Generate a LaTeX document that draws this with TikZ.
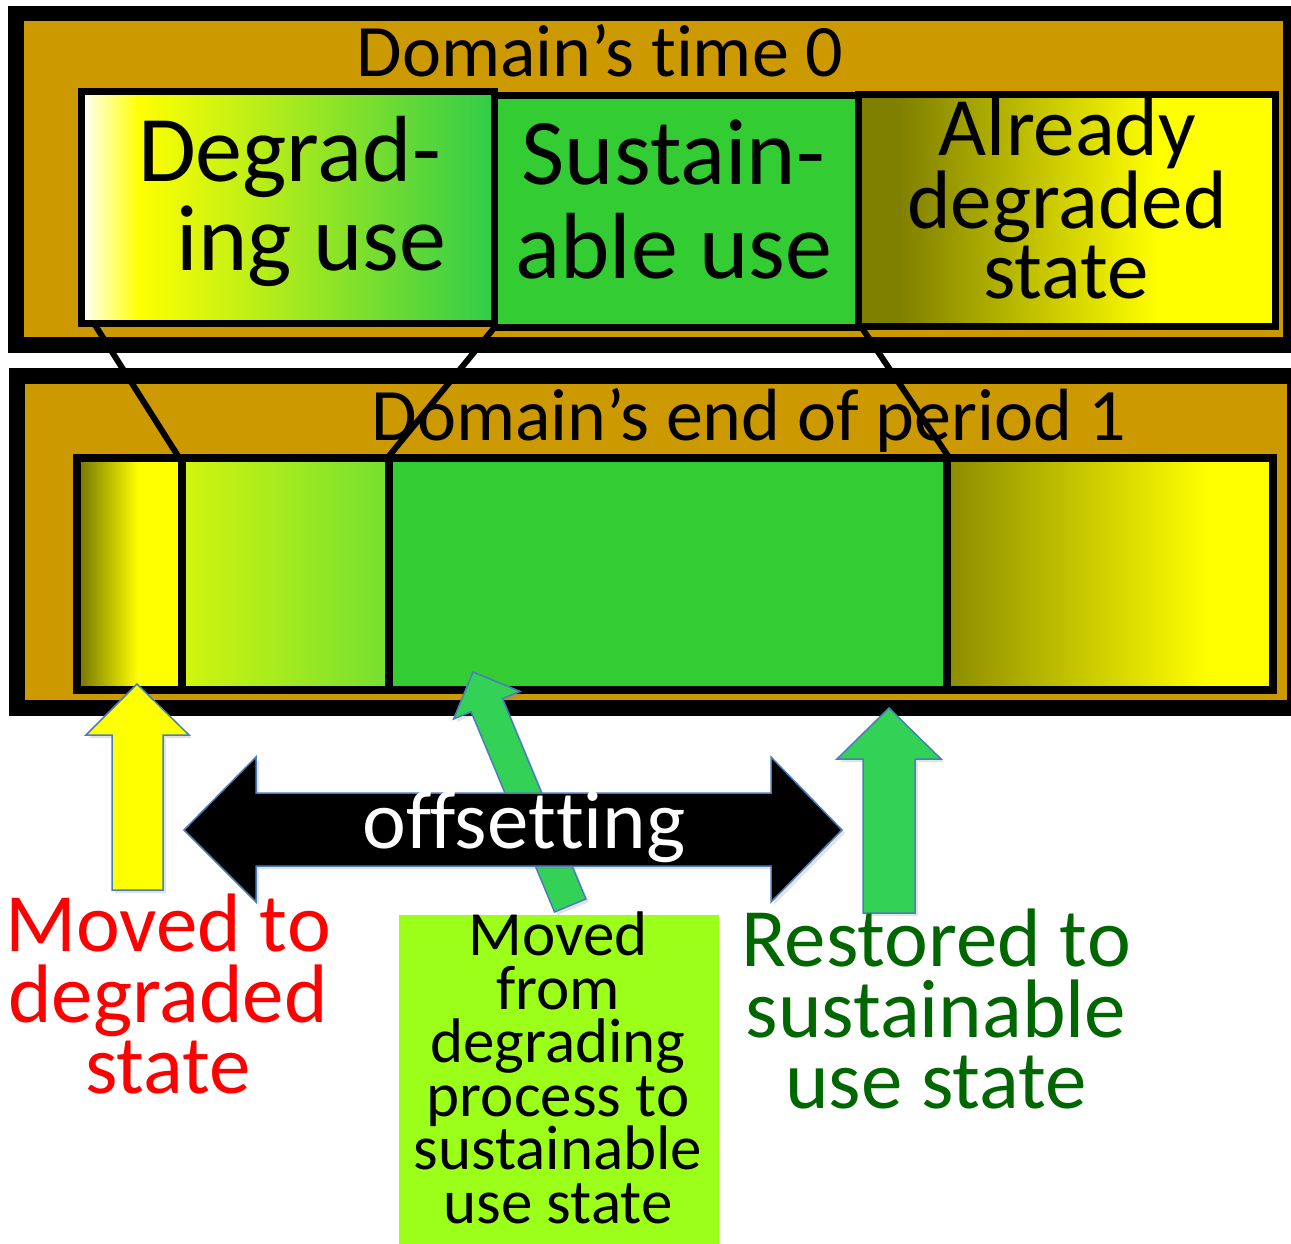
\documentclass[tikz,border=0pt]{standalone}
\usepackage{fontspec}
\setmainfont{Carlito}[Ligatures=NoCommon]
\usetikzlibrary{shadows}
\definecolor{brownbg}{HTML}{CC9900}
\definecolor{sgreen}{HTML}{33CC33}
\definecolor{gradgreen}{HTML}{30CC48}
\definecolor{olive}{HTML}{808000}
\definecolor{olivelt}{HTML}{8C8C00}
\definecolor{segBl}{HTML}{D2F50E}
\definecolor{segBr}{HTML}{74DF31}
\definecolor{lgreen}{HTML}{9BFF1A}
\definecolor{arrowgreen}{HTML}{33D155}
\definecolor{arrowblue}{HTML}{4A7EBB}
\definecolor{darkgreentext}{HTML}{006600}
\definecolor{yel}{HTML}{FFFF00}
\pgfdeclarehorizontalshading{degtop}{100bp}{color(0bp)=(white); color(25bp)=(white); color(32bp)=(yel); color(75bp)=(gradgreen); color(100bp)=(gradgreen)}
\pgfdeclarehorizontalshading{alreadytop}{100bp}{color(0bp)=(olive); color(25bp)=(olive); color(30bp)=(olive); color(61bp)=(yel); color(75bp)=(yel); color(100bp)=(yel)}
\pgfdeclarehorizontalshading{lowA}{100bp}{color(0bp)=(olive); color(25bp)=(olive); color(28bp)=(olive); color(54bp)=(yel); color(75bp)=(yel); color(100bp)=(yel)}
\pgfdeclarehorizontalshading{lowB}{100bp}{color(0bp)=(segBl); color(25bp)=(segBl); color(75bp)=(segBr); color(100bp)=(segBr)}
\pgfdeclarehorizontalshading{lowD}{100bp}{color(0bp)=(olivelt); color(25bp)=(olivelt); color(65bp)=(yel); color(75bp)=(yel); color(100bp)=(yel)}
\begin{document}
\begin{tikzpicture}[x=1pt,y=-1pt,
  boxline/.style={draw=black, line width=7pt},
  rowline/.style={draw=black, line width=8pt},
  link/.style={draw=black, line width=6pt},
  lbl/.style={inner sep=0pt, anchor=base},
  bigtxt/.style={lbl, font=\fontsize{94}{94}\selectfont},
  midtxt/.style={lbl, font=\fontsize{83}{83}\selectfont},
  titletxt/.style={lbl, font=\fontsize{74}{74}\selectfont},
  smalltxt/.style={lbl, font=\fontsize{63}{63}\selectfont},
  blockarrow/.style={draw=arrowblue, line width=1.5pt, line join=miter,
    drop shadow={opacity=0.22, shadow xshift=3pt, shadow yshift=-3pt}}
]
\useasboundingbox (0,0) rectangle (1291,1244);
\fill[white] (0,0) rectangle (1291,1244);

% ---------- top panel ----------
\fill[black] (8,6) rectangle (1291,353);
\fill[brownbg] (24,21) rectangle (1283,337);
\node[titletxt] (t0) at (600,77) {Domain’s t\kern0pt ime 0};

\filldraw[fill=sgreen, boxline] (494,96) rectangle (858,327);
\shadedraw[shading=degtop, boxline] (81.5,91.5) rectangle (494,323.5);
\shadedraw[shading=alreadytop, boxline] (858,94.5) rectangle (1275,326.5);

\node[bigtxt] (deg1) at (289.5,182) {Degrad-};
\node[bigtxt] (deg2) at (311.5,270) {ing use};
\node[bigtxt] (sus1) at (673.5,185) {Sustain-};
\node[bigtxt] (sus2) at (674,278) {able use};
\node[midtxt] (al1) at (1067.5,156) {Already};
\node[midtxt] (al2) at (1067,228) {degraded};
\node[midtxt] (al3) at (1066,298) {state};

% ---------- bottom panel ----------
\fill[black] (9,368) rectangle (1291,716);
\fill[brownbg] (25,384) rectangle (1287,700);
\node[titletxt] (t1) at (749,440) {Domain’s end of period 1};

\shade[shading=lowA] (77,458) rectangle (182,690);
\shade[shading=lowB] (182,458) rectangle (388.5,690);
\fill[sgreen] (388.5,458) rectangle (947,690);
\shade[shading=lowD] (947,458) rectangle (1273,690);
\draw[rowline] (77,458) rectangle (1273,690);
\coordinate (dv1t) at (182,458); \coordinate (dv1b) at (182,690);
\coordinate (dv2t) at (388.5,458); \coordinate (dv2b) at (388.5,690);
\coordinate (dv3t) at (947,458); \coordinate (dv3b) at (947,690);
\draw[rowline] (dv1t) -- (dv1b);
\draw[rowline] (dv2t) -- (dv2b);
\draw[rowline] (dv3t) -- (dv3b);

% ---------- connecting lines ----------
\coordinate (ta) at (95,325);
\coordinate (la) at (178,456);
\coordinate (tb) at (494,328);
\coordinate (lb) at (389,456);
\coordinate (tc) at (862,328);
\coordinate (lc) at (948,456);
\draw[link] (ta) -- (la);
\draw[link] (tb) -- (lb);
\draw[link] (tc) -- (lc);

% ---------- arrows ----------
\filldraw[blockarrow, fill=yel] (137,684) -- (189,735) -- (163,735) -- (163,890)
  -- (112,890) -- (112,735) -- (86,735) -- cycle;
\filldraw[blockarrow, fill=arrowgreen] (473,672) -- (520.0,691.4) -- (502.5,698.7)
  -- (585.9,899.0) -- (554.5,912.0) -- (471.1,711.7) -- (453.6,719.0) -- cycle;
\filldraw[blockarrow, fill=black] (184,830) -- (256,757) -- (256,793) -- (771,793)
  -- (771,757) -- (842,830) -- (771,902) -- (771,866) -- (256,866) -- (256,902) -- cycle;
\filldraw[blockarrow, fill=arrowgreen] (889,708) -- (941,759) -- (915,759) -- (915,913)
  -- (863,913) -- (863,759) -- (837,759) -- cycle;
\node[midtxt, text=white] (off) at (524,848) {offset\kern0pt t\kern0pt ing};

% ---------- bottom labels ----------
\fill[lgreen] (399,915) rectangle (719,1244);
\node[smalltxt] (m1) at (558,955) {Moved};
\node[smalltxt] (m2) at (558,1009) {from};
\node[smalltxt] (m3) at (558,1062) {degrading};
\node[smalltxt] (m4) at (558,1116) {process to};
\node[smalltxt] (m5) at (558,1169) {sustainable};
\node[smalltxt] (m6) at (558,1223) {use state};

\node[midtxt, text=red] (r1) at (168,951) {Moved to};
\node[midtxt, text=red] (r2) at (168,1022) {degraded};
\node[midtxt, text=red] (r3) at (168,1093) {state};

\node[midtxt, text=darkgreentext] (g1) at (936,966) {Restored to};
\node[midtxt, text=darkgreentext] (g2) at (936,1037) {sustainable};
\node[midtxt, text=darkgreentext] (g3) at (936,1108) {use state};
\end{tikzpicture}
\end{document}
